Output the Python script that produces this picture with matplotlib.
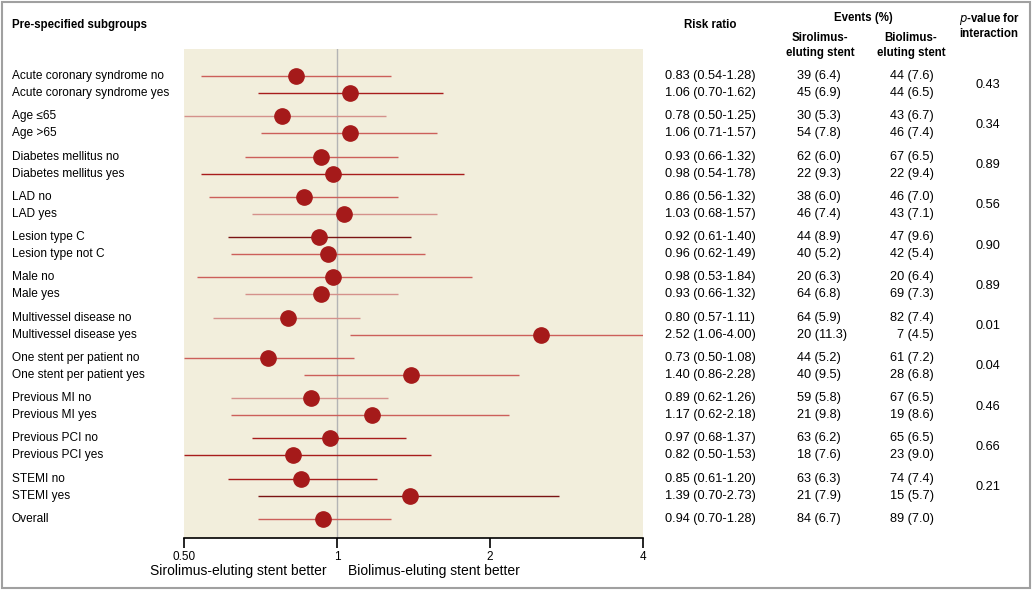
import numpy as np
import matplotlib.pyplot as plt
import matplotlib.transforms as mtransforms
from matplotlib.patches import Rectangle

plt.rcParams['font.family'] = ['Liberation Sans Narrow', 'Liberation Sans', 'DejaVu Sans']

# subgroup rows: (group, position within group)
labels = ['Acute coronary syndrome no', 'Acute coronary syndrome yes',
          'Age \u226465', 'Age >65',
          'Diabetes mellitus no', 'Diabetes mellitus yes',
          'LAD no', 'LAD yes',
          'Lesion type C', 'Lesion type not C',
          'Male no', 'Male yes',
          'Multivessel disease no', 'Multivessel disease yes',
          'One stent per patient no', 'One stent per patient yes',
          'Previous MI no', 'Previous MI yes',
          'Previous PCI no', 'Previous PCI yes',
          'STEMI no', 'STEMI yes',
          'Overall']
rr = [0.83, 1.06, 0.78, 1.06, 0.93, 0.98, 0.86, 1.03, 0.92, 0.96, 0.98, 0.93,
      0.80, 2.52, 0.73, 1.40, 0.89, 1.17, 0.97, 0.82, 0.85, 1.39, 0.94]
lo = [0.54, 0.70, 0.50, 0.71, 0.66, 0.54, 0.56, 0.68, 0.61, 0.62, 0.53, 0.66,
      0.57, 1.06, 0.50, 0.86, 0.62, 0.62, 0.68, 0.50, 0.61, 0.70, 0.70]
hi = [1.28, 1.62, 1.25, 1.57, 1.32, 1.78, 1.32, 1.57, 1.40, 1.49, 1.84, 1.32,
      1.11, 4.00, 1.08, 2.28, 1.26, 2.18, 1.37, 1.53, 1.20, 2.73, 1.28]
siro = ['39 (6.4)', '45 (6.9)', '30 (5.3)', '54 (7.8)', '62 (6.0)', '22 (9.3)',
        '38 (6.0)', '46 (7.4)', '44 (8.9)', '40 (5.2)', '20 (6.3)', '64 (6.8)',
        '64 (5.9)', '20 (11.3)', '44 (5.2)', '40 (9.5)', '59 (5.8)', '21 (9.8)',
        '63 (6.2)', '18 (7.6)', '63 (6.3)', '21 (7.9)', '84 (6.7)']
bio = ['44 (7.6)', '44 (6.5)', '43 (6.7)', '46 (7.4)', '67 (6.5)', '22 (9.4)',
       '46 (7.0)', '43 (7.1)', '47 (9.6)', '42 (5.4)', '20 (6.4)', '69 (7.3)',
       '82 (7.4)', '7 (4.5)', '61 (7.2)', '28 (6.8)', '67 (6.5)', '19 (8.6)',
       '65 (6.5)', '23 (9.0)', '74 (7.4)', '15 (5.7)', '89 (7.0)']
p_values = ['0.43', '0.34', '0.89', '0.56', '0.90', '0.89', '0.01', '0.04',
            '0.46', '0.66', '0.21']

# line shade per row
shade = ['M', 'D', 'L', 'M', 'M', 'D', 'M', 'L', 'K', 'M', 'M', 'L',
         'L', 'M', 'M', 'M', 'L', 'M', 'D', 'D', 'D', 'K', 'M']
shade_col = {'L': '#d4918b', 'M': '#cc5f5a', 'D': '#a81c1c', 'K': '#7a1414'}

gap = 2.37
ypos = [(i // 2) * gap + (i % 2) for i in range(len(labels))]

fig = plt.figure(figsize=(10.33, 5.91), dpi=100)
W, H = 1033, 591
ax = fig.add_axes([184 / W, (H - 538) / H, (643 - 184) / W, (538 - 49) / H])
ax.set_facecolor('#f2eedc')
ax.set_xscale('log')
ax.set_xlim(0.5, 4)
ax.set_ylim(27.2, -1.6)
ax.axvline(1, color='#b4b4b4', lw=1, zorder=1)

for i in range(len(labels)):
    ax.plot([lo[i], hi[i]], [ypos[i], ypos[i]], color=shade_col[shade[i]],
            lw=1.0, solid_capstyle='butt', zorder=2)
ax.plot(rr, ypos, 'o', color='#a51a1a', ms=11, mec='#a51a1a', zorder=3)

for s in ['top', 'left', 'right']:
    ax.spines[s].set_visible(False)
ax.spines['bottom'].set_color('black')
ax.spines['bottom'].set_linewidth(1.2)
ax.set_yticks([])
ax.set_xticks([0.5, 1, 2, 4])
ax.set_xticklabels(['0.50', '1', '2', '4'], fontsize=8.5)
ax.minorticks_off()
ax.tick_params(axis='x', direction='out', length=7, width=1.2, pad=2)

tr = mtransforms.blended_transform_factory(fig.transFigure, ax.transData)
fs_lab = 8.6
fs_num = 9.2
for i in range(len(labels)):
    y = ypos[i]
    fig.text(12 / W, y, labels[i], transform=tr, va='center', fontsize=fs_lab)
    fig.text(665 / W, y, '%.2f (%.2f-%.2f)' % (rr[i], lo[i], hi[i]),
             transform=tr, va='center', fontsize=fs_num)
    fig.text(797 / W, y, siro[i], transform=tr, va='center', fontsize=fs_num)
    fig.text(934 / W, y, bio[i], transform=tr, va='center', ha='right',
             fontsize=fs_num)
for g, p in enumerate(p_values):
    fig.text(988 / W, g * gap + 0.5, p, transform=tr, va='center', ha='center',
             fontsize=fs_num)

# headers
fs_h = 8.3
fig.text(12 / W, 1 - 25 / H, 'Pre-specified subgroups', fontweight='bold',
         va='center', fontsize=fs_h)
fig.text(710 / W, 1 - 25 / H, 'Risk ratio', fontweight='bold', ha='center',
         va='center', fontsize=fs_h)
fig.text(863 / W, 1 - 18 / H, 'Events (%)', fontweight='bold', ha='center',
         va='center', fontsize=fs_h)
fig.text(820 / W, 1 - 45.5 / H, 'Sirolimus-\neluting stent', fontweight='bold',
         ha='center', va='center', fontsize=fs_h, linespacing=1.3)
fig.text(911 / W, 1 - 45.5 / H, 'Biolimus-\neluting stent', fontweight='bold',
         ha='center', va='center', fontsize=fs_h, linespacing=1.3)
fig.text(989 / W, 1 - 25.5 / H, '$\\bf{\\it{p}}$-value for\ninteraction',
         fontweight='bold', ha='center', va='center', fontsize=fs_h,
         linespacing=1.2)

fig.text(150 / W, 1 - 571 / H, 'Sirolimus-eluting stent better', va='center',
         fontsize=10)
fig.text(348 / W, 1 - 571 / H, 'Biolimus-eluting stent better', va='center',
         fontsize=10)

fig.patches.append(Rectangle((2 / W, 3 / H), 1028 / W, 586 / H,
                             transform=fig.transFigure, fill=False,
                             edgecolor='#a0a0a0', lw=1.5))

fig.savefig('out.png', dpi=100)
